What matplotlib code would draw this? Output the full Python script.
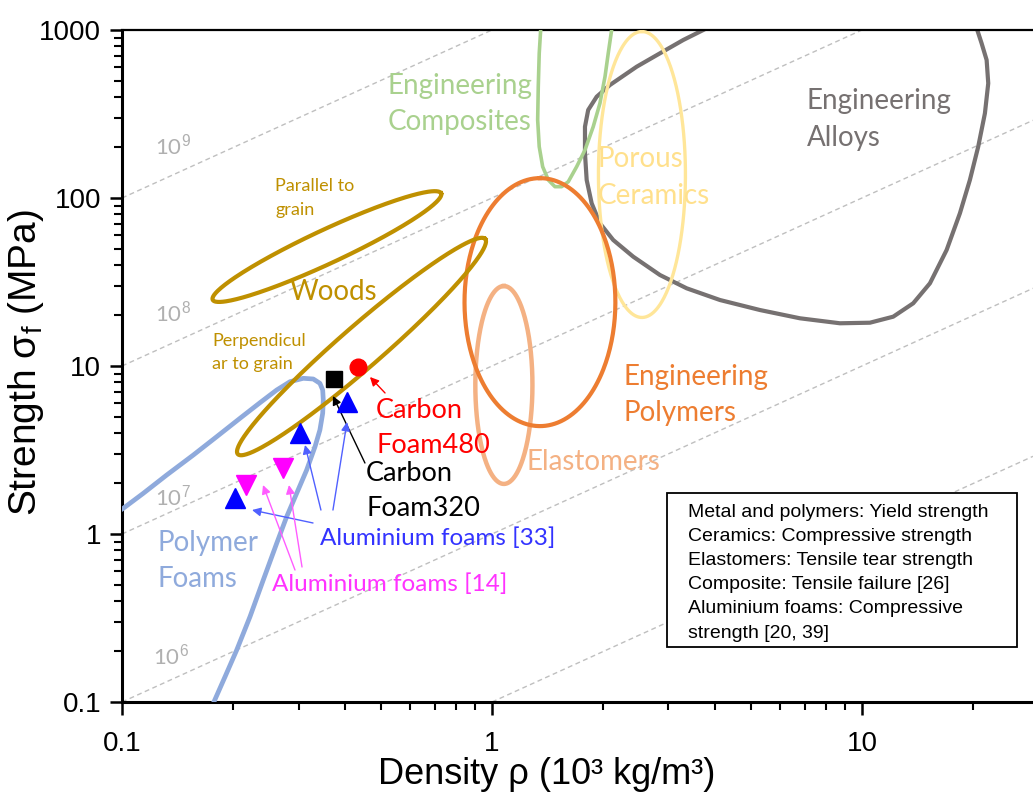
import numpy as np
import matplotlib
matplotlib.use("Agg")
import matplotlib.pyplot as plt
from matplotlib.patches import Rectangle
from matplotlib.ticker import FixedLocator, FixedFormatter, NullFormatter

plt.rcParams['font.family'] = ['Liberation Sans', 'DejaVu Sans']
plt.rcParams['mathtext.fontset'] = 'custom'
plt.rcParams['mathtext.rm'] = 'Liberation Sans'
plt.rcParams['mathtext.it'] = 'Liberation Sans:italic'

# ---- data (density rho in 1e3 kg/m3, strength in MPa) ----
# guide lines sigma = C * rho
guide_const = [1000, 100, 10, 1, 0.1]
guide_text = [r"10$^{9}$", r"10$^{8}$", r"10$^{7}$", r"10$^{6}$"]
guide_text_rho = [0.1228, 0.1228, 0.1228, 0.1213]
guide_text_sig = [204, 20.7, 1.68, 0.19]

# elliptical envelopes: centre, semi-axes (decades), visual angle
ell_names = ["woods_par", "woods_perp", "polymers", "elastomers", "ceramics"]
ell_rho = [0.358, 0.444, 1.348, 1.077, 2.543]
ell_sig = [51.4, 13.06, 24.0, 7.71, 138.0]
ell_major = [0.75, 0.976, 0.738, 0.589, 0.851]
ell_minor = [0.10, 0.125, 0.449, 0.17, 0.259]
ell_angle = [25, 41, 90, 90, 90]

# free-form envelopes
alloy_rho = [4.210, 3.725, 3.289, 2.845, 2.461, 2.084, 1.919, 1.820, 1.784, 1.784, 1.803,
             1.860, 1.958, 2.127, 2.409, 2.845, 3.359, 4.132, 5.300, 6.799, 8.721, 10.51,
             12.15, 13.76, 15.27, 16.94, 18.40, 19.58, 20.62, 21.50, 21.95, 21.73, 21.06,
             20.50, 20.20]
alloy_sig = [1147, 1000, 872, 726.6, 604.6, 470.6, 400.9, 334.1, 265.7, 184.6, 128.0, 93.0,
             70.7, 56.23, 44.74, 34.80, 29.01, 24.71, 21.54, 19.23, 17.96, 18.10, 19.66,
             23.62, 31.07, 49.03, 81.09, 128.0, 202.0, 319.3, 481.7, 662.8, 833.4, 1000, 1147]

comp_rho = [1.36, 1.354, 1.342, 1.334, 1.329, 1.342, 1.371, 1.420, 1.480, 1.543, 1.608,
            1.694, 1.784, 1.878, 1.958, 2.021, 2.062, 2.106, 2.137]
comp_sig = [1228, 1000, 726.6, 459.7, 291.3, 202.0, 153.6, 128.0, 116.8, 116.8, 125.0,
            153.6, 193.1, 265.7, 366.1, 527.6, 726.6, 1000, 1228]

foam_rho = [0.0928, 0.1008, 0.1142, 0.1321, 0.1559, 0.1803, 0.2084, 0.2360, 0.2619, 0.2845,
            0.3090, 0.3289, 0.3427, 0.3487, 0.3500, 0.3487, 0.3427, 0.3324, 0.3156, 0.2966,
            0.2787, 0.2619, 0.2409, 0.2218, 0.2042, 0.1899, 0.1765, 0.1729]
foam_sig = [1.27, 1.422, 1.747, 2.245, 2.953, 3.795, 4.883, 6.046, 7.197, 8.064, 8.448,
            8.368, 7.889, 7.197, 6.277, 5.229, 4.159, 3.308, 2.404, 1.747, 1.268, 0.880,
            0.5323, 0.3219, 0.2039, 0.1414, 0.0982, 0.0872]

# measured points
cf320_rho, cf320_sig = [0.373], [8.38]
cf480_rho, cf480_sig = [0.435], [9.9]
al33_rho = [0.405, 0.303, 0.202]
al33_sig = [6.13, 3.97, 1.63]
al14_rho = [0.217, 0.273]
al14_sig = [1.96, 2.46]

# arrows: (tail rho, tail sigma, head rho, head sigma)
arrow_red = [(0.514, 6.91, 0.468, 8.60)]
arrow_black = [(0.4536, 2.646, 0.3717, 6.63)]
arrow_blue = [(0.3283, 1.163, 0.2246, 1.389), (0.3449, 1.389, 0.3124, 3.387),
              (0.3717, 1.389, 0.4057, 4.642)]
arrow_mag = [(0.2935, 0.6105, 0.2405, 1.957), (0.3066, 0.6362, 0.2827, 1.957)]

note_lines = ["Metal and polymers: Yield strength",
              "Ceramics: Compressive strength",
              "Elastomers: Tensile tear strength",
              "Composite: Tensile failure [26]",
              "Aluminium foams: Compressive",
              "strength [20, 39]"]

GOLD = "#BF9000"
label_font = ["Lato", "DejaVu Sans"]

fig = plt.figure(figsize=(10.33, 7.94), dpi=100)
ax = fig.add_axes([122 / 1033, 92 / 794, 911 / 1033, 672 / 794])
ax.set_xscale("log")
ax.set_yscale("log")
ax.set_xlim(0.1, 29)
ax.set_ylim(0.1, 1000)


def ellipse(rc, sc, a, b, ang):
    bb = ax.get_window_extent()
    xr = np.log10(ax.get_xlim())
    yr = np.log10(ax.get_ylim())
    k = (bb.width / (xr[1] - xr[0])) / (bb.height / (yr[1] - yr[0]))
    t = np.linspace(0, 2 * np.pi, 300)
    th = np.radians(ang)
    u = a * np.cos(t) * np.cos(th) - b * np.sin(t) * np.sin(th)
    v = a * np.cos(t) * np.sin(th) + b * np.sin(t) * np.cos(th)
    return rc * 10 ** (u / k), sc * 10 ** v


# guide lines
rr = np.array(ax.get_xlim())
for c in guide_const:
    ax.plot(rr, c * rr, ls=(0, (3.5, 2.5)), color="#BFBFBF", lw=1.0, zorder=1)
for s, r, sg in zip(guide_text, guide_text_rho, guide_text_sig):
    ax.text(r, sg, s, color="#B0B0B0", fontsize=16, family=label_font, va="center")

ell_style = {
    "woods_par": dict(color=GOLD, lw=3.0, zorder=5),
    "woods_perp": dict(color=GOLD, lw=3.0, zorder=5),
    "polymers": dict(color="#ED7D31", lw=3.0, zorder=4),
    "elastomers": dict(color="#F4B183", lw=3.2, zorder=3),
    "ceramics": dict(color="#FFE699", lw=2.4, zorder=3),
}

ax.plot(alloy_rho, alloy_sig, color="#767171", lw=3.0, zorder=2,
        solid_joinstyle="round", solid_capstyle="round")
for n, rc, sc, a, b, an in zip(ell_names, ell_rho, ell_sig, ell_major, ell_minor, ell_angle):
    xs, ys = ellipse(rc, sc, a, b, an)
    ax.plot(xs, ys, **ell_style[n])
ax.plot(comp_rho, comp_sig, color="#A9D18E", lw=2.6, zorder=3, solid_joinstyle="round")
ax.plot(foam_rho, foam_sig, color="#8FAADC", lw=3.4, zorder=4, solid_joinstyle="round")


# arrows
def arrows(lst, col, lw):
    for tr, ts, hr, hs in lst:
        ax.annotate("", xy=(hr, hs), xytext=(tr, ts),
                    arrowprops=dict(arrowstyle="-|>", color=col, lw=lw,
                                    mutation_scale=13, shrinkA=0, shrinkB=0), zorder=6)


arrows(arrow_red, "red", 1.0)
arrows(arrow_black, "black", 1.0)
arrows(arrow_blue, "#5060FF", 1.0)
arrows(arrow_mag, "#FF5CFF", 1.0)

# points
ax.plot(cf320_rho, cf320_sig, "s", color="black", ms=11, zorder=7)
ax.plot(cf480_rho, cf480_sig, "o", color="red", ms=12, zorder=7)
ax.plot(al33_rho, al33_sig, "^", color="#0000FF", ms=14, zorder=7)
ax.plot(al14_rho, al14_sig, "v", color="#FF00FF", ms=14, zorder=7)


# region labels
def lab(r, s, txt, col, size, ls=1.5):
    ax.text(r, s, txt, color=col, fontsize=size, family=label_font, va="center",
            ha="left", linespacing=ls, zorder=8)


lab(0.5235, 362.6, "Engineering\nComposites", "#A9D18E", 20)
lab(7.10, 293, "Engineering\nAlloys", "#767171", 20)
lab(1.934, 132.5, "Porous\nCeramics", "#FFE08C", 20)
lab(0.2592, 100, "Parallel to\ngrain", GOLD, 13, 1.55)
lab(0.2844, 27.6, "Woods", GOLD, 20)
lab(0.1750, 12.03, "Perpendicul\nar to grain", GOLD, 13, 1.55)
lab(0.4860, 4.276, "Carbon\nFoam480", "red", 19.5)
lab(0.4566, 1.815, "Carbon\nFoam320", "black", 19.5)
lab(2.261, 6.72, "Engineering\nPolymers", "#ED7D31", 20)
lab(1.243, 2.683, "Elastomers", "#F4B183", 20)
lab(0.1251, 0.6908, "Polymer\nFoams", "#8FAADC", 20)
lab(0.3427, 0.9467, "Aluminium foams [33]", "#3333FF", 17.5)
lab(0.2543, 0.5040, "Aluminium foams [14]", "#FF33FF", 17.5)

# note box
ax.add_patch(Rectangle((0.598, 0.0818), 0.3844, 0.2292, transform=ax.transAxes,
                       facecolor="white", edgecolor="black", lw=1.3, zorder=9))
ax.text(0.6213, 0.2950, "\n".join(note_lines), transform=ax.transAxes, fontsize=14,
        va="top", ha="left", linespacing=1.55, zorder=10)

# axes styling
for side in ["left", "bottom"]:
    ax.spines[side].set_linewidth(2.2)
ax.spines["top"].set_linewidth(1.6)
ax.spines["right"].set_visible(False)
ax.yaxis.set_major_locator(FixedLocator([0.1, 1, 10, 100, 1000]))
ax.yaxis.set_major_formatter(FixedFormatter(["0.1", "1", "10", "100", "1000"]))
ax.xaxis.set_major_locator(FixedLocator([0.1, 1, 10]))
ax.xaxis.set_major_formatter(FixedFormatter(["0.1", "1", "10"]))
ax.xaxis.set_minor_formatter(NullFormatter())
ax.yaxis.set_minor_formatter(NullFormatter())
ax.tick_params(which="major", direction="out", length=9, width=1.8, labelsize=20,
               top=False, right=False, pad=6)
ax.tick_params(axis="x", which="major", pad=12)
ax.tick_params(which="minor", direction="out", length=6, width=1.5, top=False, right=False)
ax.set_xlabel("Density ρ (10³ kg/m³)", fontsize=26, va="center")
ax.xaxis.set_label_coords(0.4665, -0.108)
ax.set_ylabel("Strength σ$_\\mathrm{f}$ (MPa)", fontsize=28, va="center")
ax.yaxis.set_label_coords(-0.1054, 0.5045)

fig.savefig("out.png", dpi=100)
